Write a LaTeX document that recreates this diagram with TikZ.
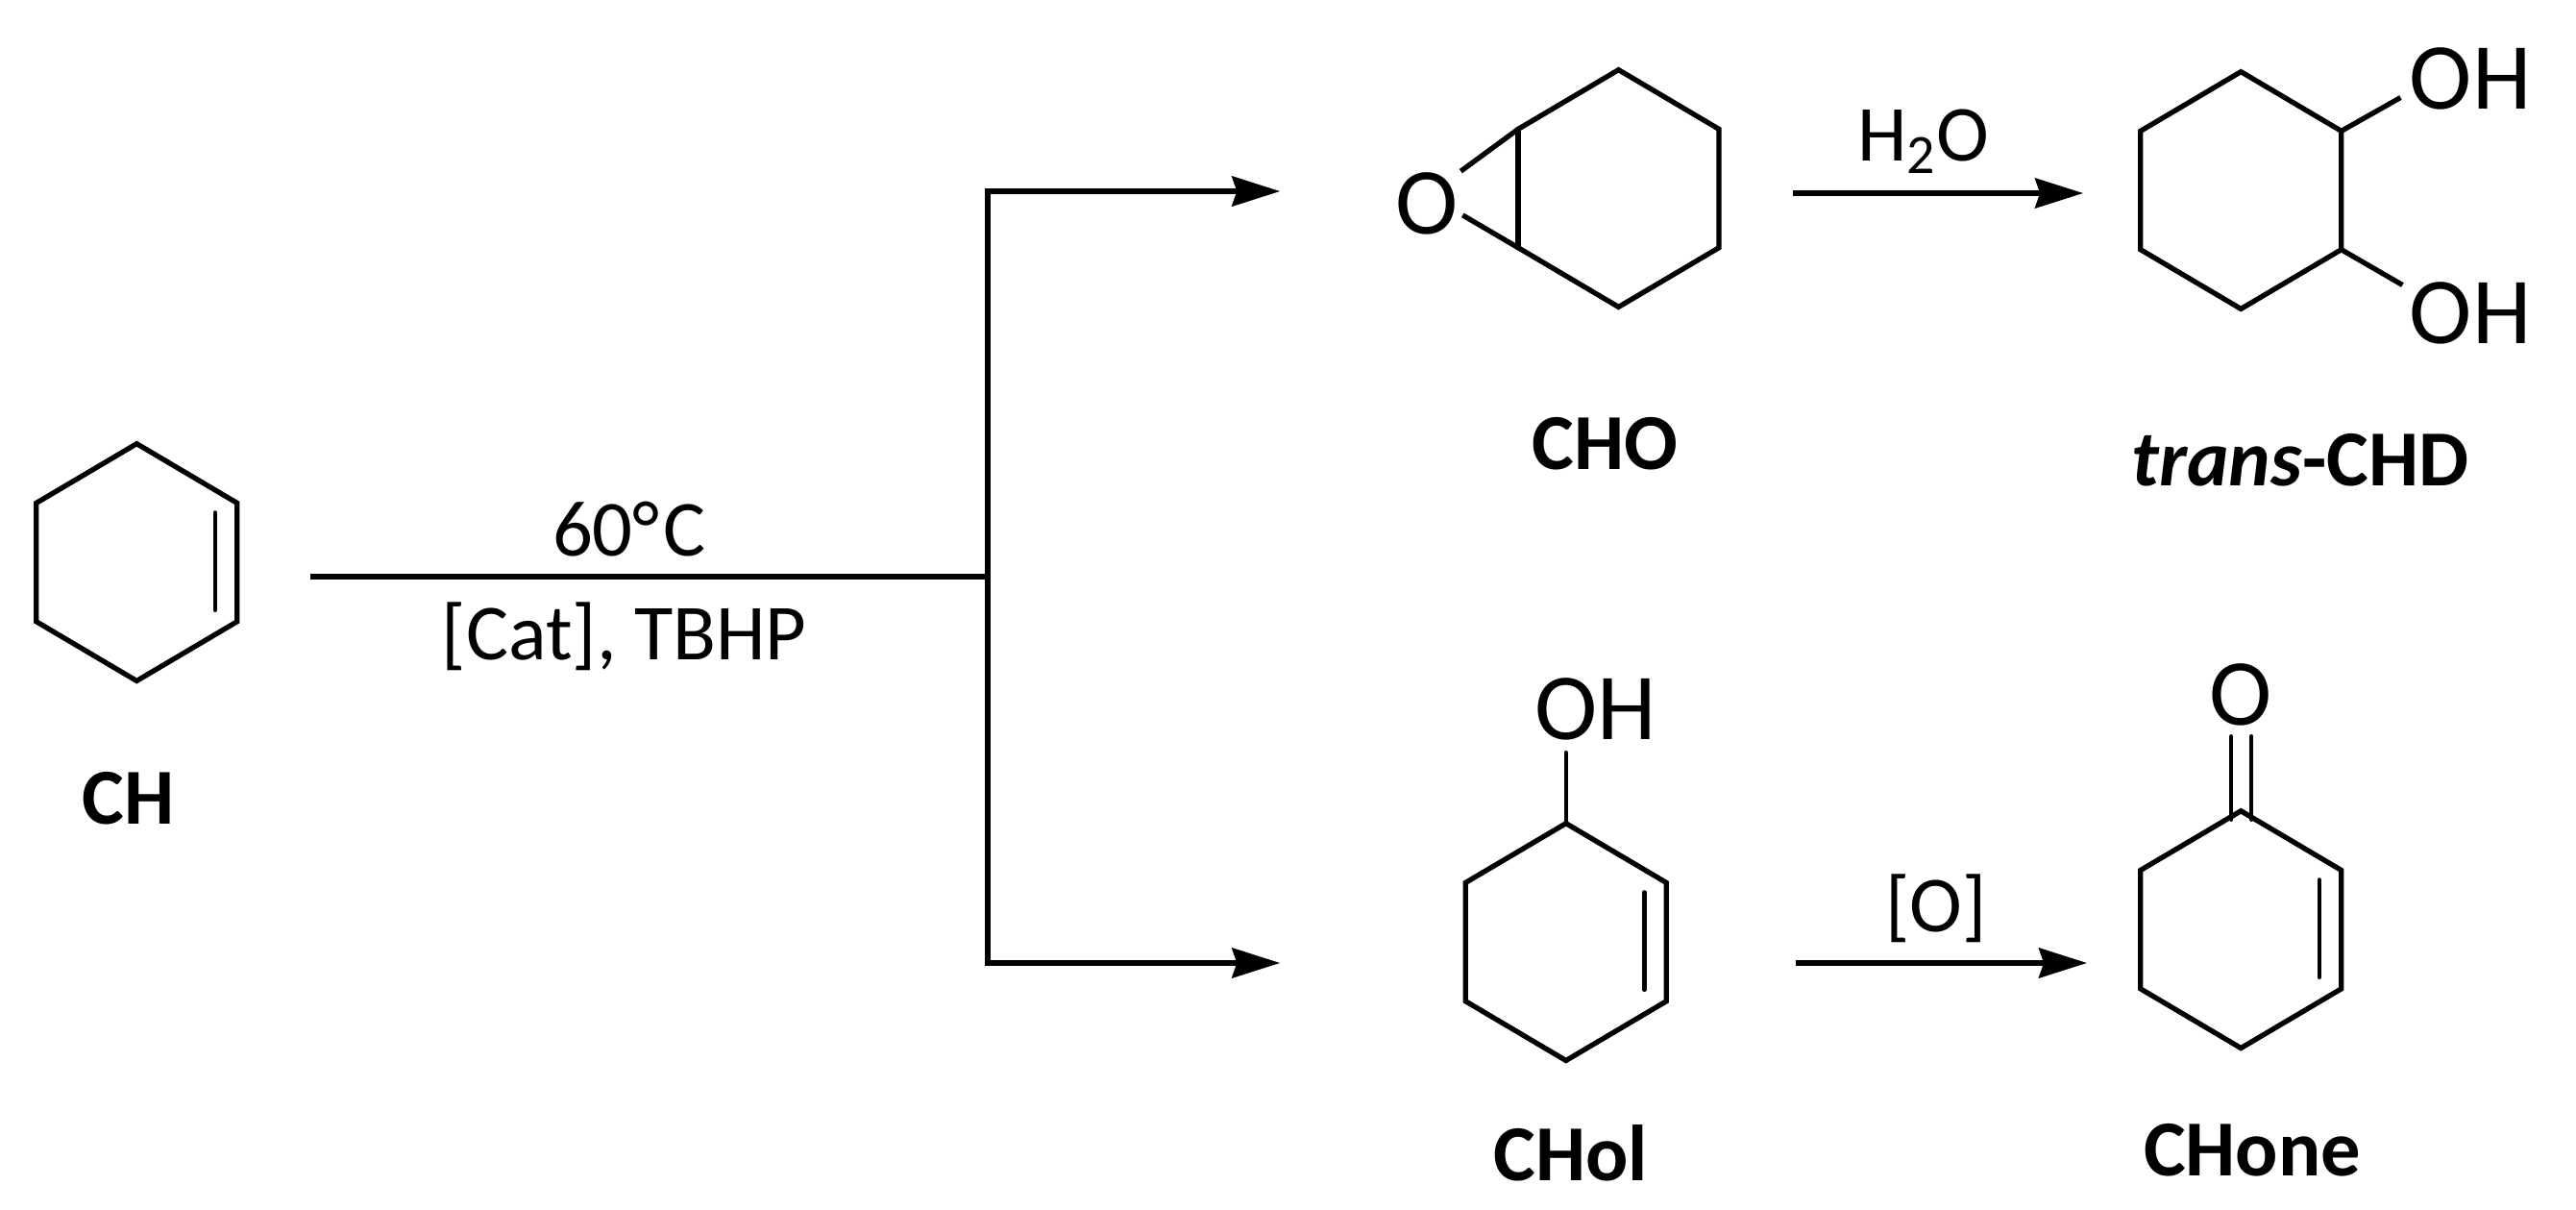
\documentclass[tikz,border=0pt]{standalone}
\usepackage{fontspec}
\setmainfont{Carlito}
\usetikzlibrary{arrows.meta}

\tikzset{
  bond/.style={line width=0.053cm, line join=miter},
  thinbond/.style={line width=0.043cm, line cap=round},
  yield/.style={line width=0.055cm, -{Stealth[length=0.5cm, width=0.31cm, inset=0.05cm]}},
  fork/.style={line width=0.055cm, {Stealth[length=0.5cm, width=0.31cm, inset=0.05cm]}-{Stealth[length=0.5cm, width=0.31cm, inset=0.05cm]}},
  txt/.style={inner sep=0pt, font=\fontsize{23.5}{28}\selectfont},
  atom/.style={inner sep=0pt, font=\fontsize{28}{32}\selectfont},
  chemname/.style={inner sep=0pt, font=\fontsize{23.5}{28}\selectfont\bfseries},
  hexring/.pic={
    \coordinate (-n) at (0,-124);
    \coordinate (-ne) at (105,-62);
    \coordinate (-se) at (105,62);
    \coordinate (-s) at (0,124);
    \coordinate (-sw) at (-105,62);
    \coordinate (-nw) at (-105,-62);
    \draw[bond] (-n) -- (-ne) -- (-se) -- (-s) -- (-sw) -- (-nw) -- cycle;
  },
  hexene/.pic={
    \pic {hexring};
    \draw[thinbond] (82,-52) -- (82,50);
  }
}

\begin{document}
\begin{tikzpicture}[x=0.00995cm, y=-0.00995cm]
\useasboundingbox (0,0) rectangle (2694.5,1265.3);

% rings
\pic (ch) at (143,588) {hexene};
\pic (cho) at (1693,197) {hexring};
\pic (chd) at (2344,199) {hexring};
\pic (chol) at (1638,985) {hexene};
\pic (chone) at (2344,972) {hexene};

% atoms and names
\node[atom] (oepox) at (1493,213) {O};
\node[atom] (ohup) at (2584,82) {OH};
\node[atom] (ohdown) at (2584,328) {OH};
\node[atom] (ohol) at (1669,742) {OH};
\node[atom] (oone) at (2344,727) {O};
\node[chemname] (lch) at (134,835) {CH};
\node[chemname] (lcho) at (1679,464) {CHO};
\node[chemname] (lchd) at (2406,481) {\textit{trans}-CHD};
\node[chemname] (lchol) at (1643,1206) {CHol};
\node[chemname] (lchone) at (2356,1203) {CHone};

% bonds
\coordinate (e1) at (1528,179);
\coordinate (e2) at (1530,225);
\coordinate (b1) at (2511,102);
\coordinate (b2) at (2513,298);
\coordinate (b3) at (1638,787);
\coordinate (c1) at (2334,770);
\coordinate (c2) at (2355,770);
\coordinate (c3) at (2334,857);
\coordinate (c4) at (2355,857);
\draw[bond] (cho-nw) -- (e1);
\draw[bond] (cho-sw) -- (e2);
\draw[bond] (cho-nw) -- (cho-sw);
\draw[bond] (chd-ne) -- (b1);
\draw[bond] (chd-se) -- (b2);
\draw[thinbond] (chol-n) -- (b3);
\draw[thinbond] (c1) -- (c3);
\draw[thinbond] (c2) -- (c4);

% reaction scheme
\coordinate (start) at (325,603);
\coordinate (branch) at (1033,603);
\coordinate (branchup) at (1033,200);
\coordinate (branchdown) at (1033,1007);
\coordinate (endup) at (1339,200);
\coordinate (enddown) at (1339,1007);
\coordinate (a1) at (1875,202);
\coordinate (a2) at (2179,202);
\coordinate (a3) at (1878,1007);
\coordinate (a4) at (2183,1007);
\draw[yield, -] (start) -- (branch);
\draw[fork, line join=miter] (endup) -- (branchup) -- (branchdown) -- (enddown);
\draw[yield] (a1) -- (a2);
\draw[yield] (a3) -- (a4);

\node[txt] (temp) at (658,553) {60°\kern1pt C};
\node[txt] (cat) at (653,666) {[Cat], TBHP};
\node[txt] (water) at (2012,148) {H\textsubscript{2}O};
\node[txt] (oxid) at (2025,950) {[O]};
\end{tikzpicture}
\end{document}
